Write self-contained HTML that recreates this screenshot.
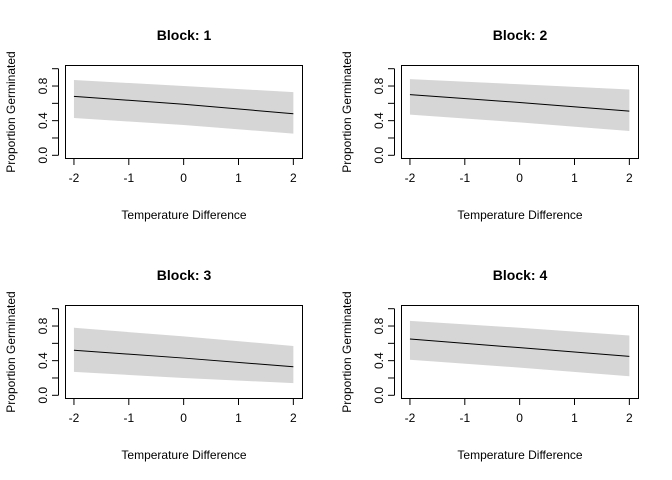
<!DOCTYPE html>
<html><head><meta charset="utf-8"><style>
body{margin:0;background:#fff}
svg{display:block;font-family:"Liberation Sans",Arial,sans-serif}
</style></head><body>
<svg id="c" width="672" height="480"></svg>
<script>
const xVals=[-2,0,2];
const fitVals=[[0.68,0.59,0.48],[0.70,0.61,0.51],[0.52,0.43,0.33],[0.65,0.55,0.45]];
const upperVals=[[0.87,0.80,0.73],[0.88,0.82,0.76],[0.78,0.68,0.57],[0.86,0.78,0.69]];
const lowerVals=[[0.43,0.35,0.25],[0.47,0.38,0.28],[0.27,0.20,0.14],[0.41,0.32,0.22]];
const blocks=["1","2","3","4"];
const xTicks=[-2,-1,0,1,2];
const yTicks=[0,0.2,0.4,0.6,0.8,1.0];
const yLabels=["0.0","","0.4","","0.8",""];
const NS="http://www.w3.org/2000/svg";
const svg=document.getElementById('c');
function mk(t,a,p){const e=document.createElementNS(NS,t);for(const k in a)e.setAttribute(k,a[k]);(p||svg).appendChild(e);return e;}
blocks.forEach((b,i)=>{
  const ox=(i%2)*336, oy=Math.floor(i/2)*240;
  const g=mk('g',{transform:`translate(${ox},${oy})`});
  
  
  const X=v=>183.65+54.85*v, Y=v=>155.3-86.6*v;
  let pts=xVals.map((x,j)=>X(x)+','+Y(upperVals[i][j]));
  pts=pts.concat(xVals.slice().reverse().map((x,j)=>X(x)+','+Y(lowerVals[i][xVals.length-1-j])));
  const band=mk('polygon',{points:pts.join(' '),fill:'#d6d6d6'},g);
  
  
  const line=mk('polyline',{points:xVals.map((x,j)=>X(x)+','+Y(fitVals[i][j])).join(' '),fill:'none',stroke:'#000','stroke-width':1},g);
  
  
  const box=mk('rect',{x:65.5,y:65.5,width:237,height:93,fill:'none',stroke:'#000'},g);
  
  
  mk('line',{x1:X(-2),x2:X(2),y1:158.5,y2:158.5,stroke:'#000'},g);
  xTicks.forEach(t=>{
    mk('line',{x1:X(t),x2:X(t),y1:158.5,y2:165,stroke:'#000'},g);
    const tx=mk('text',{x:X(t),y:182,'font-size':12,'text-anchor':'middle'},g);tx.textContent=t;
    
    
  });
  mk('line',{x1:58.5,x2:58.5,y1:Y(0),y2:Y(1),stroke:'#000'},g);
  yTicks.forEach((t,k)=>{
    mk('line',{x1:52,x2:58.5,y1:Y(t),y2:Y(t),stroke:'#000'},g);
    if(yLabels[k]){const tx=mk('text',{x:0,y:0,'font-size':12,'text-anchor':'middle',transform:`translate(47,${Y(t)}) rotate(-90)`},g);tx.textContent=yLabels[k];
    
    }
  });
  const ti=mk('text',{x:184,y:40,'font-size':14,'font-weight':'bold','text-anchor':'middle'},g);ti.textContent='Block:  '+b;
  
  
  const xl=mk('text',{x:184,y:219,'font-size':12,'text-anchor':'middle'},g);xl.textContent='Temperature Difference';
  
  
  const yl=mk('text',{x:0,y:0,'font-size':12,'text-anchor':'middle',transform:'translate(15,112) rotate(-90)'},g);yl.textContent='Proportion Germinated';
  
  
});
</script>
</body></html>
